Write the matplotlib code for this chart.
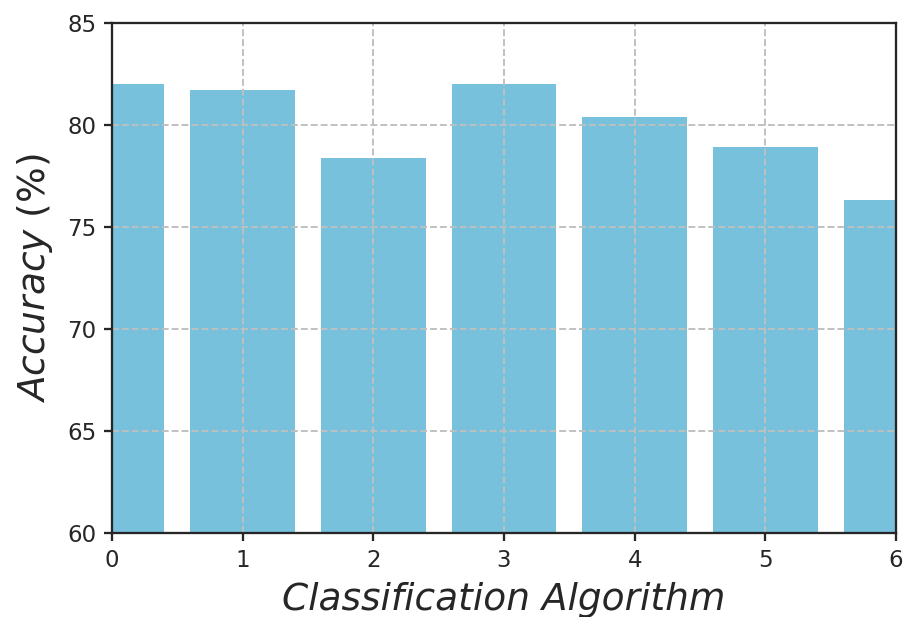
#!/usr/bin/env python3
"""
Bar chart of classification accuracy per algorithm.
"""

import matplotlib
matplotlib.use('Agg')
import matplotlib.pyplot as plt

# Data
algorithms = [0, 1, 2, 3, 4, 5, 6]
accuracy = [82.0, 81.7, 78.4, 82.0, 80.4, 78.9, 76.3]
y_ticks = [60, 65, 70, 75, 80, 85]

TEXT = '#262626'
BAR = '#77c1dc'

plt.rcParams['font.family'] = ['DejaVu Sans']
plt.rcParams['mathtext.fontset'] = 'dejavusans'

fig = plt.figure(figsize=(908 / 150, 617 / 150), dpi=150)
ax = fig.add_axes([112 / 908, 1 - 533 / 617, (896 - 112) / 908, (533 - 23) / 617])

ax.bar(algorithms, accuracy, width=0.8, color=BAR, zorder=1)

ax.set_xlim(0, 6)
ax.set_ylim(60, 85)
ax.set_xticks(algorithms)
ax.set_yticks(y_ticks)

ax.grid(True, linestyle='--', color='#bfbfbf', linewidth=0.9, zorder=2)
ax.set_axisbelow(False)

for spine in ax.spines.values():
    spine.set_linewidth(1.1)
    spine.set_color(TEXT)
    spine.set_zorder(3)

ax.tick_params(axis='both', labelsize=11, colors=TEXT, length=4, width=1.1)

ax.set_xlabel('Classification Algorithm', fontsize=18, style='italic', color=TEXT, labelpad=5)
ax.set_ylabel(r'$\mathit{Accuracy}$ (%)', fontsize=18, color=TEXT, labelpad=6)

fig.savefig('out.png', dpi=150)
plt.close(fig)
